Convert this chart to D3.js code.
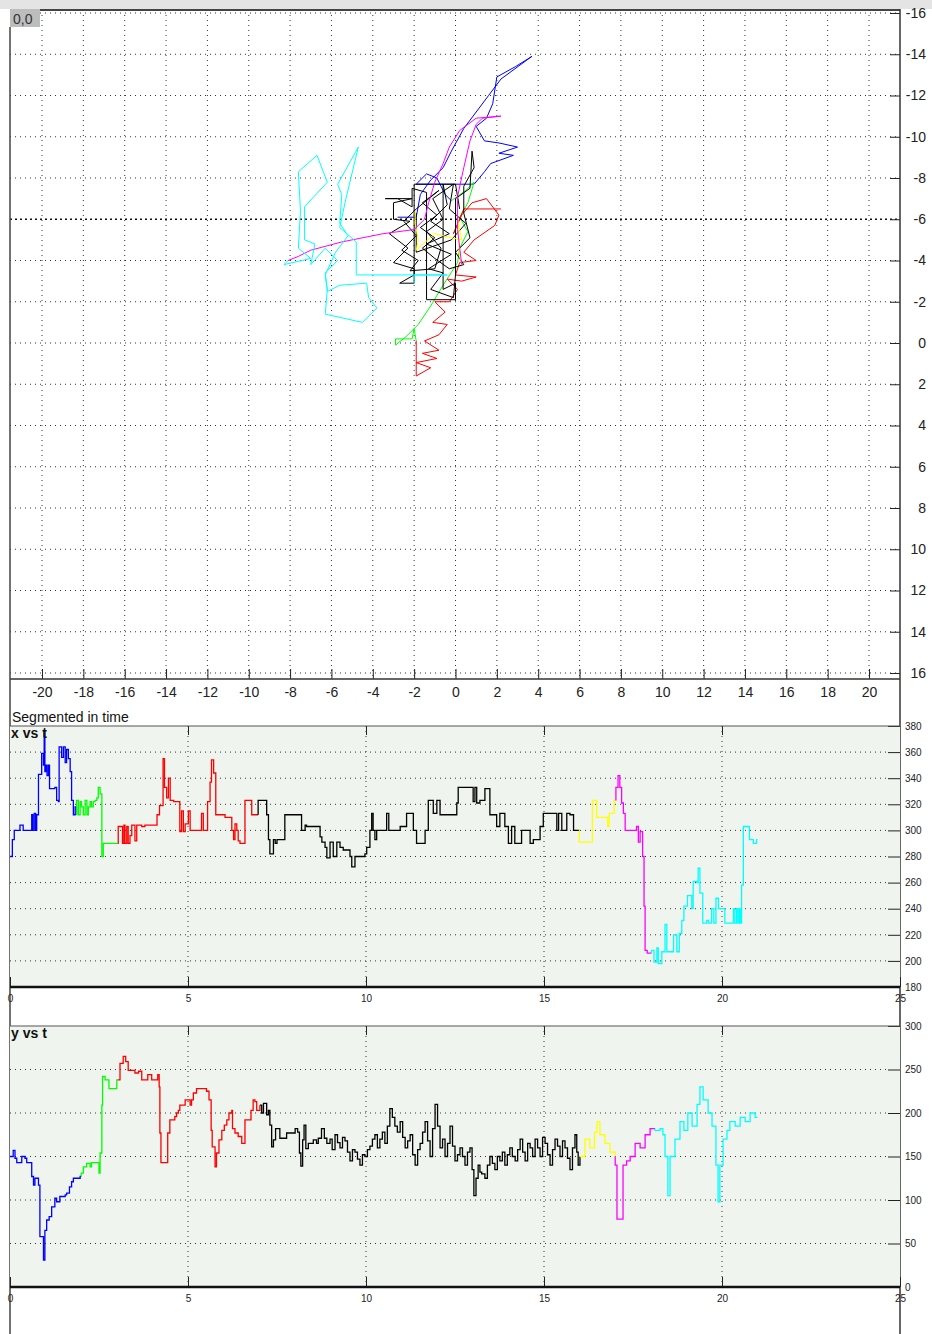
<!DOCTYPE html>
<html>
<head>
<meta charset="utf-8">
<script src="https://cdn.jsdelivr.net/npm/d3@7/dist/d3.min.js"></script>
<style>
body { margin: 0; background: #fff; }
svg { display: block; font-family: "Liberation Sans", Arial, sans-serif; }
.grid line { stroke: #333; stroke-width: 1; stroke-dasharray: 1,4; }
.grid line.heavy { stroke: #111; stroke-width: 1.6; stroke-dasharray: 2,3; }
.axis line { stroke: #222; }
.axis text { fill: #222; }
.trace { fill: none; stroke-width: 1; }
.series { fill: none; stroke-width: 1.3; }
</style>
</head>
<body>
<script>
// ---- data ----
var xTicks = [-20,-18,-16,-14,-12,-10,-8,-6,-4,-2,0,2,4,6,8,10,12,14,16,18,20];
var yTicks = [-16,-14,-12,-10,-8,-6,-4,-2,0,2,4,6,8,10,12,14,16];
var tTicks = [0,5,10,15,20,25];
var xtTicks = [180,200,220,240,260,280,300,320,340,360,380];
var ytTicks = [0,50,100,150,200,250,300];
var segColors = ["#0000ff","#00ff00","#ff0000","#000000","#ffff00","#ff00ff","#00ffff"];

// trajectory (x, y)
var topBlue = [[-2.8,-6.1],[-1.9,-6.1],[-1.7,-7.2],[-1.2,-7.9],[-0.6,-8.5],[-0.2,-9.3],[0.4,-10.4],[1.0,-11.2],[1.6,-12.0],[2.2,-12.8],[3.7,-13.9],[2.9,-13.4],[2.0,-12.9],[1.8,-11.6],[1.5,-10.9],[1.0,-10.5],[1.4,-9.8],[2.1,-9.7],[3.0,-9.5],[2.1,-9.2],[2.8,-9.1],[1.7,-8.7],[1.4,-8.3],[0.9,-7.7],[-1.9,-7.7],[-1.4,-8.2],[-0.9,-8.0],[-0.5,-7.2],[-0.2,-6.9]];
var topGreen = [[-0.2,-6.9],[0.5,-7.4],[0.9,-7.8],[0.6,-6.8],[0.2,-6.1],[0.6,-5.4],[0.2,-4.6],[0.1,-3.9],[-0.6,-2.8],[-1.2,-1.8],[-1.8,-0.9],[-2.4,-0.3],[-2.9,0.1],[-2.9,-0.2],[-2.1,-0.2],[-2.0,-0.7],[-1.9,-0.1]];
var topRed = [[-1.9,-0.1],[-1.9,1.6],[-1.2,1.2],[-1.9,0.95],[-0.9,0.75],[-1.6,0.5],[-0.8,0.35],[-1.5,-0.1],[-0.8,-0.4],[-0.4,-0.9],[-1.1,-1.0],[-0.5,-1.5],[-1.0,-2.0],[-0.3,-2.0],[0.1,-2.6],[-0.4,-3.1],[0.3,-3.0],[1.0,-3.2],[0.0,-3.3],[0.2,-3.9],[1.0,-4.0],[0.4,-4.4],[0.9,-5.0],[1.9,-5.7],[2.1,-6.2],[1.5,-7.0],[0.8,-6.8],[0.3,-6.2],[-0.1,-5.3],[0.4,-6.5],[2.2,-6.5]];
var topBlack = [[0.2,-6.5],[0.0,-7.7],[-2.0,-7.7],[-2.0,-3.3],[-2.7,-2.9],[-2.0,-2.9],[-2.0,-3.6],[-3.0,-3.9],[-2.3,-4.6],[-3.2,-5.3],[-2.2,-5.9],[-3.0,-6.0],[-3.0,-6.8],[-2.1,-7.0],[-3.4,-7.0],[-2.8,-7.0],[-2.1,-6.6],[-2.1,-7.5],[-1.4,-7.3],[-1.4,-3.0],[-1.4,-2.1],[0.0,-2.1],[0.0,-2.9],[-0.6,-2.6],[-0.6,-7.7],[-0.4,-6.7],[-1.2,-5.9],[-0.3,-5.3],[-1.4,-4.8],[-0.2,-4.3],[-1.3,-3.6],[-0.6,-3.4],[-1.2,-2.6],[-0.1,-2.2],[0.0,-3.3],[0.0,-7.0],[0.7,-7.5],[0.8,-9.3],[0.9,-8.5],[0.4,-7.6],[0.4,-6.3],[0.7,-5.1],[0.0,-4.4],[0.4,-3.8],[-0.3,-3.6],[-1.0,-4.1],[-1.6,-4.6],[-1.0,-5.1],[-1.7,-5.6],[-0.9,-6.2],[-1.6,-6.8],[-0.8,-7.4],[-1.9,-6.5],[-2.5,-5.9],[-1.9,-5.2],[-2.6,-4.5],[-1.8,-4.0],[-2.2,-3.5],[-1.0,-3.6],[-0.7,-4.6],[-1.4,-5.4],[-0.6,-6.0],[-1.1,-7.0],[-0.1,-7.7],[-0.3,-6.5],[0.5,-5.8],[-0.2,-5.0],[-1.9,-4.4],[-1.9,-6.3]];
var topYellow = [[-1.95,-6.4],[-1.95,-5.8],[-1.8,-5.0],[-1.9,-4.5],[-1.0,-5.3],[-0.2,-5.1],[0.3,-5.0],[0.1,-6.0],[0.2,-4.2],[0.3,-3.8]];
var topMagenta = [[0.3,-3.8],[0.1,-5.5],[0.1,-7.1],[0.4,-8.5],[0.7,-9.8],[1.0,-10.6],[1.3,-10.9],[2.2,-11.0],[1.0,-10.9],[0.2,-10.3],[-0.3,-9.5],[-0.6,-8.7],[-1.0,-7.8],[-1.3,-6.8],[-1.5,-6.0],[-2.0,-5.5],[-3.5,-5.3],[-5.5,-4.9],[-7.0,-4.5],[-7.6,-4.2],[-8.1,-4.0]];
var topCyan = [[-8.1,-4.0],[-8.3,-3.8],[-7.0,-4.1],[-7.6,-4.6],[-7.5,-6.4],[-7.6,-8.3],[-6.7,-9.1],[-6.2,-7.8],[-7.3,-6.6],[-7.3,-5.0],[-6.8,-4.8],[-7.0,-3.8],[-6.3,-4.6],[-5.7,-4.0],[-6.3,-3.4],[-6.2,-2.5],[-5.6,-2.8],[-4.3,-2.9],[-4.2,-2.2],[-3.8,-1.7],[-4.5,-1.0],[-6.3,-1.4],[-6.2,-2.6],[-6.3,-3.3],[-5.8,-4.4],[-5.2,-5.2],[-5.6,-5.8],[-5.5,-7.2],[-5.7,-7.7],[-4.7,-9.5],[-5.3,-7.0],[-5.6,-5.6],[-4.8,-4.9],[-4.8,-3.3],[-0.4,-3.3],[-2.0,-3.3],[-2.0,-2.9]];

// x vs t  (t, x)
var xtBlue = [[0,280],[0.066,293],[0.12,300],[0.28,304],[0.37,300],[0.61,312],[0.64,300],[0.68,313],[0.72,300],[0.75,312],[0.80,343],[0.89,359],[0.94,350],[0.96,376],[0.98,345],[1.01,350],[1.04,342],[1.08,350],[1.11,332],[1.26,333],[1.31,323],[1.36,322],[1.38,364],[1.45,356],[1.50,364],[1.55,352],[1.59,362],[1.64,355],[1.69,345],[1.73,323],[1.78,312],[1.83,318],[1.87,312]];
var xtGreen = [[1.87,323],[1.92,312],[1.97,322],[2.01,318],[2.06,312],[2.11,323],[2.16,312],[2.20,318],[2.25,322],[2.29,318],[2.34,322],[2.39,323],[2.44,325],[2.48,333],[2.53,328],[2.58,280],[2.62,290],[3.02,290]];
var xtRed = [[3.02,290],[3.04,303],[3.14,303],[3.16,290],[3.20,304],[3.23,290],[3.28,303],[3.32,290],[3.37,296],[3.42,304],[3.51,292],[3.56,304],[3.70,303],[3.79,304],[4.13,312],[4.20,319],[4.30,355],[4.34,333],[4.40,325],[4.45,340],[4.50,323],[4.60,322],[4.77,299],[4.82,315],[4.87,299],[4.92,305],[5.01,315],[5.06,300],[5.38,313],[5.43,300],[5.55,322],[5.62,337],[5.66,354],[5.72,344],[5.78,312],[6.04,310],[6.23,300],[6.28,293],[6.32,305],[6.37,300],[6.41,292],[6.46,290],[6.60,323],[6.79,312],[6.97,312]];
var xtBlack = [[6.97,323],[7.21,312],[7.26,293],[7.30,282],[7.40,293],[7.45,290],[7.50,293],[7.63,293],[7.72,312],[8.19,300],[8.29,304],[8.33,303],[8.71,295],[8.76,291],[8.85,287],[8.90,279],[8.99,291],[9.08,280],[9.18,291],[9.27,287],[9.36,285],[9.55,280],[9.60,272],[9.69,280],[9.97,282],[10.02,287],[10.11,300],[10.16,313],[10.20,300],[10.25,293],[10.30,300],[10.58,313],[10.64,300],[10.96,303],[11.14,313],[11.33,300],[11.42,290],[11.57,290],[11.66,300],[11.75,323],[11.89,313],[11.99,323],[12.08,312],[12.55,321],[12.59,333],[13.01,322],[13.06,333],[13.11,321],[13.20,323],[13.34,332],[13.48,312],[13.67,303],[13.76,313],[13.90,303],[14.00,290],[14.09,303],[14.18,290],[14.37,300],[14.61,290],[14.70,293],[14.89,303],[14.98,313],[15.36,300],[15.41,313],[15.50,300],[15.64,313],[15.73,312],[15.83,300],[15.99,300]];
var xtYellow = [[15.99,291],[16.36,323],[16.48,310],[16.79,303],[16.83,313],[16.97,323],[17.02,323]];
var xtMagenta = [[17.02,333],[17.08,342],[17.13,333],[17.18,321],[17.23,313],[17.28,300],[17.60,303],[17.65,291],[17.70,299],[17.77,280],[17.81,242],[17.84,208],[17.90,206],[18.02,206]];
var xtCyan = [[18.02,208],[18.09,199],[18.17,210],[18.21,198],[18.31,207],[18.40,228],[18.45,207],[18.64,220],[18.73,207],[18.80,221],[18.87,231],[18.93,242],[19.03,250],[19.15,240],[19.19,261],[19.29,260],[19.33,271],[19.38,252],[19.46,229],[19.57,231],[19.62,229],[19.71,240],[19.77,229],[19.83,248],[19.90,240],[20.08,229],[20.32,240],[20.36,229],[20.41,240],[20.45,229],[20.49,240],[20.52,229],[20.55,258],[20.60,303],[20.77,293],[20.88,290],[20.97,293],[21.0,293]];

// y vs t  (t, y)
var ytBlue = [[0,150],[0.09,157],[0.14,148],[0.19,143],[0.33,150],[0.42,148],[0.47,143],[0.61,127],[0.66,117],[0.70,125],[0.80,117],[0.84,58],[0.94,31],[0.98,65],[1.03,77],[1.10,81],[1.17,92],[1.26,102],[1.31,98],[1.40,104],[1.55,106],[1.59,108],[1.67,115],[1.73,121],[1.78,125],[1.97,127],[2.0,127]];
var ytGreen = [[2.0,131],[2.06,138],[2.15,142],[2.25,138],[2.29,143],[2.46,143],[2.50,131],[2.53,154],[2.58,209],[2.60,242],[2.67,238],[2.78,228],[2.95,228],[3.0,238],[3.02,238]];
var ytRed = [[3.02,238],[3.09,257],[3.18,265],[3.25,259],[3.32,249],[3.51,246],[3.61,248],[3.70,238],[3.87,244],[3.98,238],[4.15,244],[4.19,230],[4.21,177],[4.24,143],[4.40,143],[4.43,177],[4.49,192],[4.63,196],[4.68,200],[4.73,203],[4.77,209],[4.92,215],[5.06,209],[5.10,215],[5.15,223],[5.24,228],[5.43,228],[5.52,225],[5.59,215],[5.65,180],[5.68,161],[5.76,138],[5.80,154],[5.87,169],[5.95,180],[6.02,186],[6.09,192],[6.15,200],[6.23,203],[6.25,182],[6.32,177],[6.41,173],[6.51,165],[6.60,192],[6.77,203],[6.83,215],[6.88,213],[6.93,203],[7.02,209]];
var ytBlack = [[7.02,209],[7.07,200],[7.12,211],[7.21,198],[7.26,203],[7.30,186],[7.35,161],[7.40,169],[7.46,182],[7.58,171],[7.77,177],[8.01,182],[8.08,178],[8.13,154],[8.17,139],[8.22,169],[8.26,186],[8.31,159],[8.38,165],[8.52,169],[8.61,165],[8.66,171],[8.75,182],[8.83,171],[8.90,165],[8.99,170],[9.05,158],[9.13,175],[9.20,166],[9.27,160],[9.34,172],[9.41,168],[9.48,155],[9.55,145],[9.62,158],[9.69,155],[9.76,147],[9.83,140],[9.90,152],[9.97,150],[10.04,158],[10.11,162],[10.18,170],[10.25,175],[10.32,160],[10.39,170],[10.46,178],[10.53,165],[10.60,185],[10.67,205],[10.74,195],[10.81,185],[10.88,178],[10.96,190],[11.03,172],[11.10,160],[11.17,168],[11.24,175],[11.31,152],[11.38,140],[11.45,158],[11.52,165],[11.59,178],[11.66,190],[11.73,168],[11.80,150],[11.87,182],[11.94,210],[12.01,185],[12.08,160],[12.15,170],[12.22,150],[12.29,165],[12.36,185],[12.43,162],[12.50,145],[12.57,152],[12.64,160],[12.71,150],[12.78,140],[12.85,155],[12.92,160],[12.98,135],[13.03,105],[13.09,125],[13.15,140],[13.20,132],[13.25,130],[13.34,125],[13.41,140],[13.48,150],[13.55,142],[13.62,135],[13.69,150],[13.76,145],[13.83,155],[13.90,140],[13.97,152],[14.04,160],[14.11,150],[14.19,145],[14.26,158],[14.33,170],[14.40,155],[14.47,145],[14.54,165],[14.61,160],[14.68,150],[14.75,170],[14.82,160],[14.89,150],[14.96,172],[15.03,165],[15.10,152],[15.17,140],[15.24,158],[15.31,170],[15.38,162],[15.45,150],[15.52,168],[15.59,160],[15.66,148],[15.73,135],[15.80,160],[15.87,175],[15.92,155],[15.96,140],[16.01,150]];
var ytYellow = [[16.01,150],[16.15,170],[16.29,160],[16.42,178],[16.49,190],[16.57,175],[16.71,165],[16.85,155],[17.0,150]];
var ytMagenta = [[17.0,140],[17.05,78],[17.16,78],[17.22,140],[17.32,145],[17.42,150],[17.56,165],[17.70,160],[17.84,175],[17.98,182],[18.12,182]];
var ytCyan = [[18.12,180],[18.26,182],[18.34,175],[18.40,150],[18.48,105],[18.54,150],[18.68,170],[18.82,190],[18.93,180],[19.04,200],[19.16,185],[19.30,210],[19.38,230],[19.47,215],[19.61,200],[19.72,185],[19.83,140],[19.89,98],[19.94,140],[20.03,170],[20.14,180],[20.22,190],[20.37,185],[20.51,195],[20.65,190],[20.79,200],[20.93,195],[21.0,195]];

var topSegs = [topBlue, topGreen, topRed, topBlack, topYellow, topMagenta, topCyan];
var xtSegs = [xtBlue, xtGreen, xtRed, xtBlack, xtYellow, xtMagenta, xtCyan];
var ytSegs = [ytBlue, ytGreen, ytRed, ytBlack, ytYellow, ytMagenta, ytCyan];

// ---- layout ----
var svgWidth = 932;
var svgHeight = 1334;
var plotLeft = 10;
var plotRight = 900;

var svg = d3.select("body")
    .append("svg")
    .attr("width", svgWidth)
    .attr("height", svgHeight);

// window strip on top
svg.append("rect").attr("x", 0).attr("y", 0).attr("width", svgWidth).attr("height", 9).attr("fill", "#e4e4e4");

// ---- trajectory plot ----
var xScale = d3.scaleLinear().domain([-20, 20]).range([42, 869]);
var yScale = d3.scaleLinear().domain([-16, 16]).range([13, 673]);
var topBottom = 679;

svg.append("clipPath").attr("id", "clipTop")
    .append("rect").attr("x", plotLeft).attr("y", 10).attr("width", plotRight - plotLeft).attr("height", topBottom - 10);

var topGrid = svg.append("g").attr("class", "grid");
topGrid.selectAll("line.v").data(xTicks).enter().append("line")
    .attr("class", "v")
    .attr("x1", d => xScale(d)).attr("x2", d => xScale(d))
    .attr("y1", 10).attr("y2", topBottom);
topGrid.selectAll("line.h").data(yTicks).enter().append("line")
    .attr("class", d => d === -6 ? "h heavy" : "h")
    .attr("x1", plotLeft).attr("x2", plotRight)
    .attr("y1", d => yScale(d)).attr("y2", d => yScale(d));

var trajLine = d3.line().x(d => xScale(d[0])).y(d => yScale(d[1]));
var trajGroup = svg.append("g").attr("clip-path", "url(#clipTop)");
topSegs.forEach(function(seg, i) {
    trajGroup.append("path")
        .attr("class", "trace")
        .attr("stroke", segColors[i])
        .attr("d", trajLine(seg));
});

// bottom axis of trajectory plot
var bottomAxis = d3.axisBottom(xScale).tickValues(xTicks).tickSizeInner(-10).tickSizeOuter(0)
    .tickPadding(8).tickFormat(d => String(d));
svg.append("g").attr("class", "axis")
    .attr("transform", `translate(0, ${topBottom})`)
    .call(bottomAxis)
    .call(g => g.select(".domain").remove())
    .selectAll("text").attr("font-size", 14);

// right axis of trajectory plot
var rightAxis = d3.axisRight(yScale).tickValues(yTicks).tickSizeInner(-10).tickSizeOuter(0)
    .tickPadding(26).tickFormat(d => String(d));
svg.append("g").attr("class", "axis")
    .attr("transform", `translate(${plotRight}, 0)`)
    .call(rightAxis)
    .call(g => g.select(".domain").remove())
    .selectAll("text").attr("font-size", 14).attr("text-anchor", "end");

// frame lines
svg.append("line").attr("x1", 40).attr("x2", plotRight).attr("y1", 10).attr("y2", 10).attr("stroke", "#444").attr("stroke-width", 2);
svg.append("line").attr("x1", plotLeft).attr("x2", plotRight).attr("y1", topBottom).attr("y2", topBottom).attr("stroke", "#333").attr("stroke-width", 1.5);
svg.append("line").attr("x1", plotLeft).attr("x2", plotLeft).attr("y1", 27).attr("y2", svgHeight).attr("stroke", "#444").attr("stroke-width", 1.5);
svg.append("line").attr("x1", plotRight).attr("x2", plotRight).attr("y1", 9).attr("y2", svgHeight).attr("stroke", "#333").attr("stroke-width", 1.5);

// origin label box
svg.append("rect").attr("x", 10).attr("y", 9).attr("width", 30).attr("height", 18).attr("fill", "#bdbdbd");
svg.append("text").attr("x", 13).attr("y", 24).attr("font-size", 14).attr("fill", "#333").text("0,0");

svg.append("text").attr("x", 12).attr("y", 722).attr("font-size", 14).attr("fill", "#111").text("Segmented in time");

// ---- time panels ----
var tScale = d3.scaleLinear().domain([0, 25]).range([plotLeft, plotRight]);

function drawPanel(top, bottom, vScale, vTicks, segs, title) {
    var g = svg.append("g");
    g.append("rect").attr("x", plotLeft).attr("y", top).attr("width", plotRight - plotLeft).attr("height", bottom - top)
        .attr("fill", "#eff5ee");

    var grid = g.append("g").attr("class", "grid");
    grid.selectAll("line.h").data(vTicks.slice(1, -1)).enter().append("line")
        .attr("x1", plotLeft).attr("x2", plotRight - 10)
        .attr("y1", d => vScale(d)).attr("y2", d => vScale(d));
    grid.selectAll("line.v").data(tTicks.slice(1, -1)).enter().append("line")
        .attr("x1", d => tScale(d)).attr("x2", d => tScale(d))
        .attr("y1", top).attr("y2", bottom);

    var line = d3.line().curve(d3.curveStepAfter).x(d => tScale(d[0])).y(d => vScale(d[1]));
    segs.forEach(function(seg, i) {
        var pts = seg;
        if (i > 0) {
            var prev = segs[i - 1];
            pts = [[seg[0][0], prev[prev.length - 1][1]]].concat(seg);
        }
        g.append("path").attr("class", "series").attr("stroke", segColors[i]).attr("d", line(pts));
    });

    // top ticks
    g.append("g").attr("class", "axis")
        .attr("transform", `translate(0, ${top})`)
        .call(d3.axisTop(tScale).tickValues(tTicks.slice(1, -1)).tickSizeInner(-9).tickSizeOuter(0).tickFormat(""))
        .call(s => s.select(".domain").remove());

    // bottom axis
    g.append("g").attr("class", "axis")
        .attr("transform", `translate(0, ${bottom})`)
        .call(d3.axisBottom(tScale).tickValues(tTicks).tickSizeInner(-10).tickSizeOuter(0).tickPadding(8).tickFormat(d => String(d)))
        .call(s => s.select(".domain").remove())
        .selectAll("text").attr("font-size", 10);

    // right axis
    g.append("g").attr("class", "axis")
        .attr("transform", `translate(${plotRight}, 0)`)
        .call(d3.axisRight(vScale).tickValues(vTicks).tickSizeInner(-12).tickSizeOuter(0).tickPadding(5).tickFormat(d => String(d)))
        .call(s => s.select(".domain").remove())
        .selectAll("text").attr("font-size", 10);

    g.append("line").attr("x1", plotLeft).attr("x2", plotRight).attr("y1", top).attr("y2", top).attr("stroke", "#555").attr("stroke-width", 1.2);
    g.append("line").attr("x1", plotLeft).attr("x2", plotRight).attr("y1", bottom).attr("y2", bottom).attr("stroke", "#111").attr("stroke-width", 2.5);

    g.append("text").attr("x", 11).attr("y", top + 12).attr("font-size", 14).attr("font-weight", "bold").attr("fill", "#111").text(title);
}

var xtScale = d3.scaleLinear().domain([180, 380]).range([987, 726]);
var ytScale = d3.scaleLinear().domain([0, 300]).range([1287, 1026]);

drawPanel(726, 987, xtScale, xtTicks, xtSegs, "x vs t");
drawPanel(1026, 1287, ytScale, ytTicks, ytSegs, "y vs t");
</script>
</body>
</html>
